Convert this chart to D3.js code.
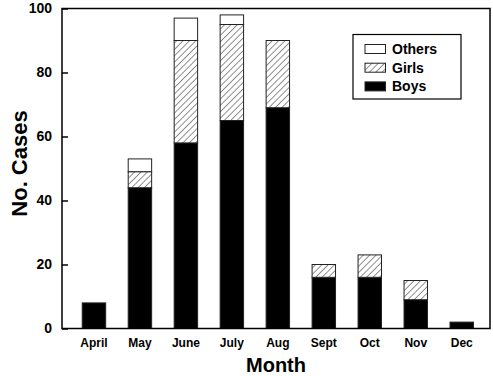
<!DOCTYPE html>
<html>
<head>
<meta charset="utf-8">
<script src="https://cdn.jsdelivr.net/npm/d3@7"></script>
<style>
  html, body { margin: 0; padding: 0; background: #fff; }
  svg { display: block; font-family: "Liberation Sans", Arial, sans-serif; }
</style>
</head>
<body>
<div id="chart"></div>
<script>
const months = ['April', 'May', 'June', 'July', 'Aug', 'Sept', 'Oct', 'Nov', 'Dec'];
const boys   = [8, 44, 58, 65, 69, 16, 16, 9, 2];
const girls  = [0, 5, 32, 30, 21, 4, 7, 6, 0];
const others = [0, 4, 7, 3, 0, 0, 0, 0, 0];
const yTicks = [0, 20, 40, 60, 80, 100];
const seriesKeys = ['boys', 'girls', 'others'];
const legendLabels = ['Others', 'Girls', 'Boys'];

const width = 493, height = 376;
const margin = { top: 8.5, right: 3, bottom: 47.5, left: 62 };
const innerW = width - margin.left - margin.right;
const innerH = height - margin.top - margin.bottom;

const svg = d3.select('#chart')
    .append('svg')
    .attr('width', width)
    .attr('height', height);

// diagonal hatch for girls
const defs = svg.append('defs');
const pat = defs.append('pattern')
    .attr('id', 'hatch')
    .attr('patternUnits', 'userSpaceOnUse')
    .attr('width', 4.5)
    .attr('height', 4.5)
    .attr('patternTransform', 'rotate(45)');
pat.append('rect').attr('width', 4.5).attr('height', 4.5).attr('fill', '#fff');
pat.append('line')
    .attr('x1', 0).attr('y1', 0).attr('x2', 0).attr('y2', 4.5)
    .attr('stroke', '#222').attr('stroke-width', 1);

const fills = { boys: '#000', girls: 'url(#hatch)', others: '#fff' };

const chart = svg.append('g')
    .attr('transform', `translate(${margin.left},${margin.top})`);

const x = d3.scaleBand()
    .domain(months)
    .range([0, innerW])
    .paddingInner(0.49)
    .paddingOuter(0.4)
    .align(0.55);

const y = d3.scaleLinear()
    .domain([0, 100])
    .range([innerH, 0]);

const table = months.map((m, i) => ({ month: m, boys: boys[i], girls: girls[i], others: others[i] }));
const stacked = d3.stack().keys(seriesKeys)(table);

chart.selectAll('.series')
    .data(stacked)
    .enter().append('g')
    .attr('class', 'series')
    .attr('fill', d => fills[d.key])
    .selectAll('rect')
    .data(d => d.filter(s => s[1] - s[0] > 0))
    .enter().append('rect')
    .attr('x', d => x(d.data.month))
    .attr('y', d => y(d[1]))
    .attr('width', x.bandwidth())
    .attr('height', d => y(d[0]) - y(d[1]))
    .attr('stroke', '#222')
    .attr('stroke-width', 1);

// frame
chart.append('rect')
    .attr('width', innerW)
    .attr('height', innerH)
    .attr('fill', 'none')
    .attr('stroke', '#000')
    .attr('stroke-width', 1.5);

// y axis with inward ticks
const yAxis = d3.axisLeft(y).tickValues(yTicks).tickSize(-6).tickPadding(10);
chart.append('g')
    .attr('class', 'y-axis')
    .call(yAxis)
    .call(g => g.select('.domain').remove())
    .call(g => g.selectAll('line').attr('stroke-width', 1.5))
    .call(g => g.selectAll('text')
        .attr('font-size', 14)
        .attr('font-weight', 'bold')
        .attr('fill', '#000')
        .attr('font-family', '"Liberation Sans", Arial, sans-serif'));

// month labels
const xAxis = d3.axisBottom(x).tickSize(0).tickPadding(10);
chart.append('g')
    .attr('class', 'x-axis')
    .attr('transform', `translate(0,${innerH})`)
    .call(xAxis)
    .call(g => g.select('.domain').remove())
    .call(g => g.selectAll('text')
        .attr('font-size', 12)
        .attr('font-weight', 'bold')
        .attr('fill', '#000')
        .attr('font-family', '"Liberation Sans", Arial, sans-serif'));

chart.append('text')
    .attr('text-anchor', 'middle')
    .attr('x', innerW / 2)
    .attr('y', innerH + 43)
    .attr('font-size', 20)
    .attr('font-weight', 'bold')
    .text('Month');

chart.append('text')
    .attr('text-anchor', 'middle')
    .attr('transform', 'rotate(-90)')
    .attr('x', -innerH / 2 + 5)
    .attr('y', -margin.left + 27)
    .attr('font-size', 22)
    .attr('font-weight', 'bold')
    .text('No. Cases');

// legend
const legend = svg.append('g').attr('transform', 'translate(353,34.5)');
legend.append('rect')
    .attr('width', 108)
    .attr('height', 64.5)
    .attr('fill', '#fff')
    .attr('stroke', '#000')
    .attr('stroke-width', 1.2);

const legendFill = { Others: fills.others, Girls: fills.girls, Boys: fills.boys };
const rows = legend.selectAll('.row')
    .data(legendLabels)
    .enter().append('g')
    .attr('class', 'row')
    .attr('transform', (d, i) => `translate(12,${10 + i * 18.7})`);

rows.append('rect')
    .attr('width', 20.5)
    .attr('height', 9)
    .attr('fill', d => legendFill[d])
    .attr('stroke', '#222')
    .attr('stroke-width', 1);

rows.append('text')
    .attr('x', 27)
    .attr('y', 4.5)
    .attr('dy', '0.36em')
    .attr('font-size', 14)
    .attr('font-weight', 'bold')
    .text(d => d);
</script>
</body>
</html>
